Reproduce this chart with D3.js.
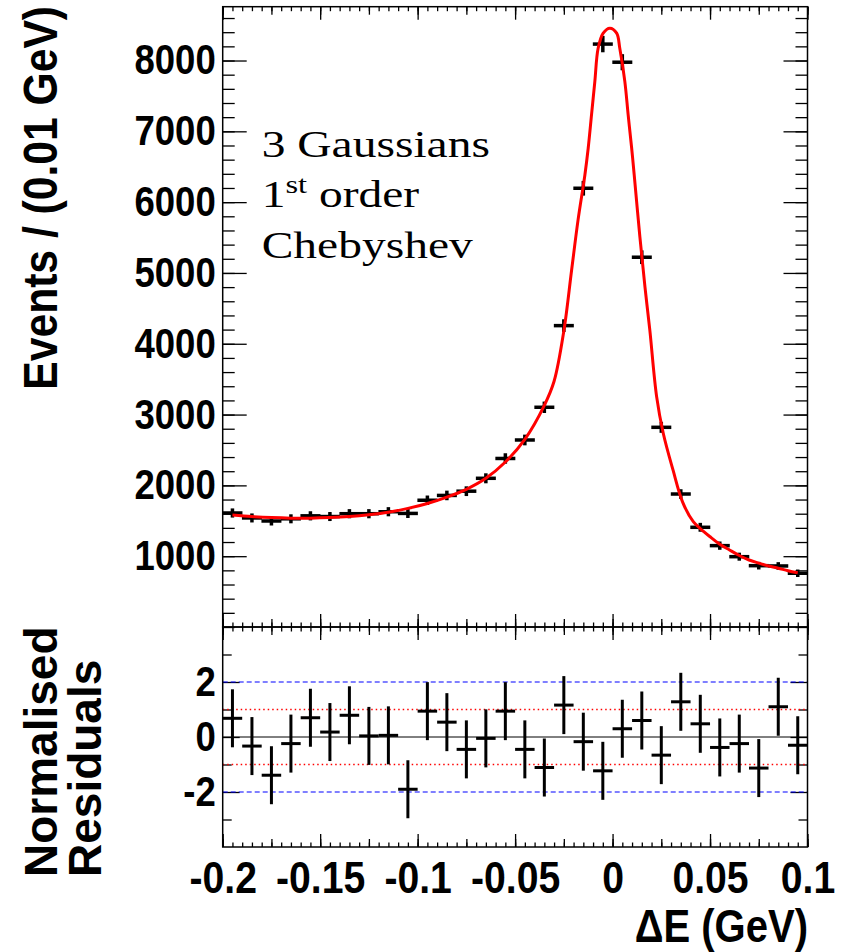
<!DOCTYPE html>
<html>
<head>
<meta charset="utf-8">
<style>
body { margin: 0; background: #fff; }
svg { display: block; }
.frame { fill: none; stroke: #000; stroke-width: 1.5px; }
.axis line { stroke: #000; stroke-width: 1.3px; }
.axis text { font-family: "Liberation Sans", Arial, sans-serif; font-weight: bold; font-size: 42px; fill: #000; }
.axis--xlab text { font-size: 45px; }
.title { font-family: "Liberation Sans", Arial, sans-serif; font-weight: bold; fill: #000; }
.note { font-family: "Liberation Serif", "Times New Roman", serif; font-size: 38px; fill: #000; }
.bar { stroke: #000; stroke-width: 3.5px; stroke-linecap: square; }
.rbar { stroke: #000; stroke-width: 3px; stroke-linecap: square; }
.fit { fill: none; stroke: #ff0000; stroke-width: 3px; stroke-linejoin: round; }
.zero { stroke: #000; stroke-width: 1px; }
.sig1 { stroke: #ff0000; stroke-width: 1.3px; stroke-dasharray: 1.5,3; }
.sig2 { stroke: #0000ff; stroke-width: 1.2px; stroke-dasharray: 5,3; }
</style>
</head>
<body>
<svg width="847" height="952"></svg>
<script src="https://d3js.org/d3.v7.min.js"></script>
<script>

// bins of 0.01 GeV, centres
var binCentres = [-0.195,-0.185,-0.175,-0.165,-0.155,-0.145,-0.135,-0.125,-0.115,-0.105,
                  -0.095,-0.085,-0.075,-0.065,-0.055,-0.045,-0.035,-0.025,-0.015,-0.005,
                   0.005, 0.015, 0.025, 0.035, 0.045, 0.055, 0.065, 0.075, 0.085, 0.095];
var binWidth = 0.01;

var counts = [1610,1540,1497,1528,1570,1560,1600,1600,1628,1604,
              1790,1858,1918,2100,2380,2641,3103,4256,6196,8232,
              7976,5222,2820,1878,1408,1149,993,866,862,759];

var countErrs = [40,39,39,39,40,39,40,40,40,40,
                 42,43,44,46,49,51,56,65,79,91,
                 89,72,53,43,38,34,32,29,29,28];

var residuals = [0.68,-0.33,-1.39,-0.24,0.70,0.18,0.79,0.04,0.06,-1.90,
                 0.94,0.54,-0.45,-0.05,0.94,-0.45,-1.11,1.16,-0.17,-1.23,
                 0.30,0.60,-0.66,1.28,0.48,-0.38,-0.24,-1.13,1.10,-0.30];

// fit curve
var fitX = [-0.195,-0.185,-0.175,-0.165,-0.155,-0.145,-0.135,-0.125,-0.115,-0.105,
            -0.095,-0.085,-0.075,-0.065,-0.055,-0.045,-0.035,-0.030,-0.025,-0.021,
            -0.0177,-0.0142,-0.0125,-0.0108,-0.0091,-0.0074,-0.0048,-0.0014,0.0021,0.0037,
            0.0063,0.0080,0.0098,0.0111,0.0140,0.0166,0.0191,0.0226,0.026,0.031,
            0.036,0.0414,0.045,0.050,0.055,0.060,0.065,0.070,0.075,0.080,
            0.085,0.090,0.095];
var fitY = [1582,1560,1545,1537,1537,1545,1560,1585,1620,1675,
            1745,1835,1945,2100,2330,2650,3130,3470,4180,5042,
            5749,6384,6761,7232,7702,8173,8386,8456,8386,8173,
            7702,7232,6761,6384,5513,4806,4195,3253,2736,2218,
            1760,1487,1390,1275,1170,1088,1010,946,902,862,
            830,795,765];

var xTicks = [-0.2,-0.15,-0.1,-0.05,0,0.05,0.1];
var yTicks = [1000,2000,3000,4000,5000,6000,7000,8000];
var rTicks = [-2,0,2];

var svg = d3.select("svg"),
    left = 222.7, right = 807.5,
    top1 = 6.7, bot1 = 627, bot2 = 847,
    squeeze = "scale(0.87,1)";

var x = d3.scaleLinear().domain([-0.2, 0.1]).range([left, right]);
var y = d3.scaleLinear().domain([0, 8760]).range([bot1, top1]);
var r = d3.scaleLinear().domain([-4, 4]).range([bot2, bot1]);

var minorX = d3.range(0, 61).map(function(i) { return -0.2 + i * 0.005; });
var midX = minorX.filter(function(d, i) { return i % 5 === 0; });
var minorY = d3.range(0, 8760, 200);
var plain = function(d) { return String(d); };

function noDomain(g) {
  g.select(".domain").remove();
  g.selectAll("text").attr("transform", squeeze);
}

function xTickSet(yPos, dir, withLabels) {
  // dir: +1 ticks downward, -1 ticks upward
  var mk = dir > 0 ? d3.axisTop : d3.axisBottom;
  svg.append("g").attr("class", "axis").attr("transform", "translate(0," + yPos + ")")
    .call(mk(x).tickValues(minorX).tickSize(-4.5).tickFormat("")).call(noDomain);
  svg.append("g").attr("class", "axis").attr("transform", "translate(0," + yPos + ")")
    .call(mk(x).tickValues(midX).tickSize(-8).tickFormat("")).call(noDomain);
  var ax = mk(x).tickValues(xTicks).tickSize(-13).tickPadding(14)
    .tickFormat(withLabels ? plain : "");
  svg.append("g").attr("class", "axis axis--xlab").attr("transform", "translate(0," + yPos + ")")
    .call(ax).call(noDomain);
}

// top panel axes
xTickSet(top1, 1, false);
xTickSet(bot1, -1, false);

svg.append("g").attr("class", "axis").attr("transform", "translate(" + left + ",0)")
  .call(d3.axisLeft(y).tickValues(minorY).tickSize(-12).tickFormat("")).call(noDomain);
svg.append("g").attr("class", "axis").attr("transform", "translate(" + left + ",0)")
  .call(d3.axisLeft(y).tickValues(yTicks).tickSize(-24).tickPadding(8).tickFormat(plain)).call(noDomain);
svg.append("g").attr("class", "axis").attr("transform", "translate(" + right + ",0)")
  .call(d3.axisRight(y).tickValues(minorY).tickSize(-12).tickFormat("")).call(noDomain);
svg.append("g").attr("class", "axis").attr("transform", "translate(" + right + ",0)")
  .call(d3.axisRight(y).tickValues(yTicks).tickSize(-24).tickFormat("")).call(noDomain);

// bottom panel axes
xTickSet(bot1, 1, false);
xTickSet(bot2, -1, true);

var rMinor = [-3,-1,1,3];
svg.append("g").attr("class", "axis").attr("transform", "translate(" + left + ",0)")
  .call(d3.axisLeft(r).tickValues(rMinor).tickSize(-9).tickFormat("")).call(noDomain);
svg.append("g").attr("class", "axis").attr("transform", "translate(" + left + ",0)")
  .call(d3.axisLeft(r).tickValues(rTicks).tickSize(-17).tickPadding(8).tickFormat(plain)).call(noDomain);
svg.append("g").attr("class", "axis").attr("transform", "translate(" + right + ",0)")
  .call(d3.axisRight(r).tickValues(rMinor).tickSize(-9).tickFormat("")).call(noDomain);
svg.append("g").attr("class", "axis").attr("transform", "translate(" + right + ",0)")
  .call(d3.axisRight(r).tickValues(rTicks).tickSize(-17).tickFormat("")).call(noDomain);

// reference lines in residual panel
[2, -2].forEach(function(v) {
  svg.append("line").attr("class", "sig2").attr("x1", left).attr("x2", right).attr("y1", r(v)).attr("y2", r(v));
});
[1, -1].forEach(function(v) {
  svg.append("line").attr("class", "sig1").attr("x1", left).attr("x2", right).attr("y1", r(v)).attr("y2", r(v));
});
svg.append("line").attr("class", "zero").attr("x1", left).attr("x2", right).attr("y1", r(0)).attr("y2", r(0));

// frames
svg.append("rect").attr("class", "frame")
  .attr("x", left).attr("y", top1).attr("width", right - left).attr("height", bot1 - top1);
svg.append("rect").attr("class", "frame")
  .attr("x", left).attr("y", bot1).attr("width", right - left).attr("height", bot2 - bot1);

// data points
var pts = svg.append("g");
binCentres.forEach(function(c, i) {
  pts.append("line").attr("class", "bar")
    .attr("x1", x(c - binWidth / 2) + 1.5).attr("x2", x(c + binWidth / 2) - 1.5)
    .attr("y1", y(counts[i])).attr("y2", y(counts[i]));
  pts.append("line").attr("class", "bar")
    .attr("x1", x(c)).attr("x2", x(c))
    .attr("y1", y(counts[i] - countErrs[i])).attr("y2", y(counts[i] + countErrs[i]));
});

// fit
var line = d3.line()
  .curve(d3.curveCatmullRom.alpha(0.5))
  .x(function(d) { return x(d); })
  .y(function(d, i) { return y(fitY[i]); });

svg.append("path").datum(fitX).attr("class", "fit").attr("d", line);

// residual points
var res = svg.append("g");
binCentres.forEach(function(c, i) {
  res.append("line").attr("class", "rbar")
    .attr("x1", x(c - binWidth / 2) + 1.5).attr("x2", x(c + binWidth / 2) - 1.5)
    .attr("y1", r(residuals[i])).attr("y2", r(residuals[i]));
  res.append("line").attr("class", "rbar")
    .attr("x1", x(c)).attr("x2", x(c))
    .attr("y1", r(residuals[i] - 1)).attr("y2", r(residuals[i] + 1));
});

// titles
svg.append("text").attr("class", "title")
  .attr("transform", "translate(57,6) rotate(-90) " + squeeze)
  .attr("text-anchor", "end").style("font-size", "49px")
  .text("Events / (0.01 GeV)");

svg.append("text").attr("class", "title")
  .attr("transform", "translate(57,877) rotate(-90)")
  .style("font-size", "46px").text("Normalised");
svg.append("text").attr("class", "title")
  .attr("transform", "translate(101,877) rotate(-90)")
  .style("font-size", "46px").text("Residuals");

svg.append("text").attr("class", "title")
  .attr("transform", "translate(808,942) " + squeeze)
  .attr("text-anchor", "end")
  .style("font-size", "46px").text("\u0394E (GeV)");

// fit description
var note = svg.append("g").attr("transform", "translate(261.7,0) scale(1.25,1)");
note.append("text").attr("class", "note").attr("y", 156.7).text("3 Gaussians");
var t2 = note.append("text").attr("class", "note").attr("y", 206.7);
t2.append("tspan").text("1");
t2.append("tspan").attr("dy", -14).style("font-size", "26px").text("st");
t2.append("tspan").attr("dy", 14).text(" order");
note.append("text").attr("class", "note").attr("y", 258).text("Chebyshev");

</script>
</body>
</html>
